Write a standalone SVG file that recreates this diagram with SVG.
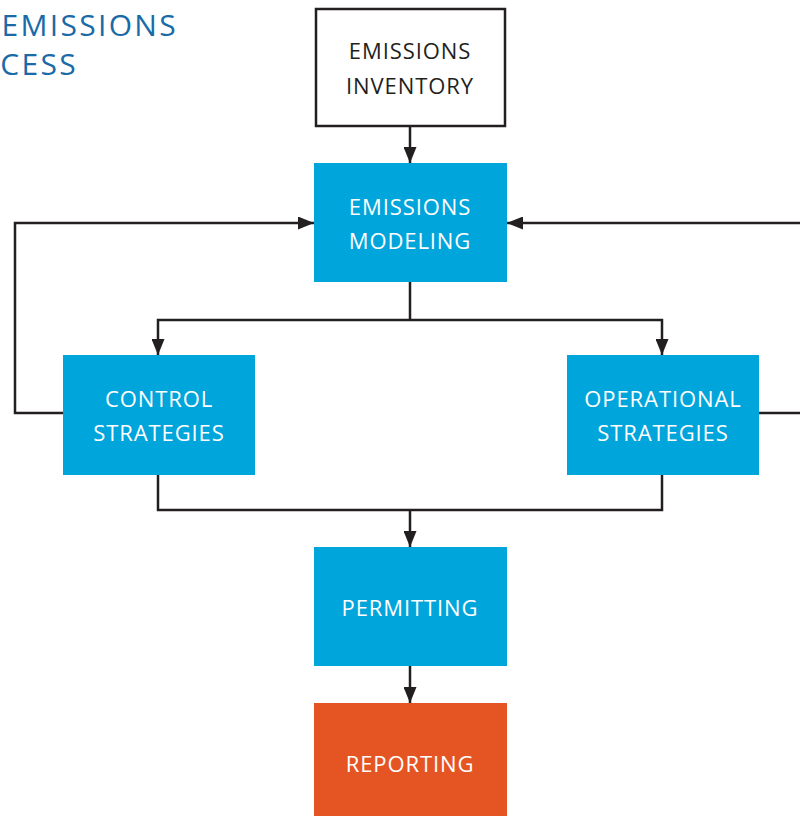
<svg xmlns="http://www.w3.org/2000/svg" width="800" height="816" viewBox="0 0 800 816">
<style>
.box{fill:#00a5db}
.rep{fill:#e55523}
.inv{fill:#fff;stroke:#231f20;stroke-width:2.5}
.t{font-family:"Open Sans","Liberation Sans",sans-serif;font-size:22px;letter-spacing:0.9px;text-anchor:middle;fill:#fff}
.td{fill:#231f20}
.title{font-family:"Open Sans","Liberation Sans",sans-serif;font-size:30px;fill:#1a6aa8;letter-spacing:2.3px;text-anchor:end}
.c{fill:none;stroke:#231f20;stroke-width:2.5}
</style>
<defs>
<marker id="ah" markerWidth="16" markerHeight="13" viewBox="0 0 16 13" refX="16" refY="6.5" orient="auto" markerUnits="userSpaceOnUse">
<path d="M0,0 L16,6.5 L0,13 z" fill="#231f20"/>
</marker>
</defs>
<text class="title" x="178" y="36">EMISSIONS</text>
<text class="title" x="78" y="75">CESS</text>
<g id="connectors">
<path class="c" d="M410,126 V163" marker-end="url(#ah)"/>
<path class="c" d="M63,413 H15 V223 H314" marker-end="url(#ah)"/>
<path class="c" d="M759,413 H800"/>
<path class="c" d="M800,223 H507" marker-end="url(#ah)"/>
<path class="c" d="M410,282 V320"/>
<path class="c" d="M410,320 H158 V355" marker-end="url(#ah)"/>
<path class="c" d="M410,320 H662 V355" marker-end="url(#ah)"/>
<path class="c" d="M158,475 V510 H662 V475"/>
<path class="c" d="M410,510 V547" marker-end="url(#ah)"/>
<path class="c" d="M410,666 V703" marker-end="url(#ah)"/>
</g>
<g id="inventory">
<rect class="inv" x="316" y="9" width="189" height="117"/>
<text class="t td" x="410" y="59">EMISSIONS</text>
<text class="t td" x="410" y="94">INVENTORY</text>
</g>
<g id="modeling">
<rect class="box" x="314" y="163" width="193" height="119"/>
<text class="t" x="410" y="215">EMISSIONS</text>
<text class="t" x="410" y="249">MODELING</text>
</g>
<g id="control">
<rect class="box" x="63" y="355" width="192" height="120"/>
<text class="t" x="159" y="407">CONTROL</text>
<text class="t" x="159" y="441">STRATEGIES</text>
</g>
<g id="operational">
<rect class="box" x="567" y="355" width="192" height="120"/>
<text class="t" x="663" y="407">OPERATIONAL</text>
<text class="t" x="663" y="441">STRATEGIES</text>
</g>
<g id="permitting">
<rect class="box" x="314" y="547" width="193" height="119"/>
<text class="t" x="410" y="616">PERMITTING</text>
</g>
<g id="reporting">
<rect class="rep" x="314" y="703" width="193" height="113"/>
<text class="t" x="410" y="772">REPORTING</text>
</g>
</svg>
